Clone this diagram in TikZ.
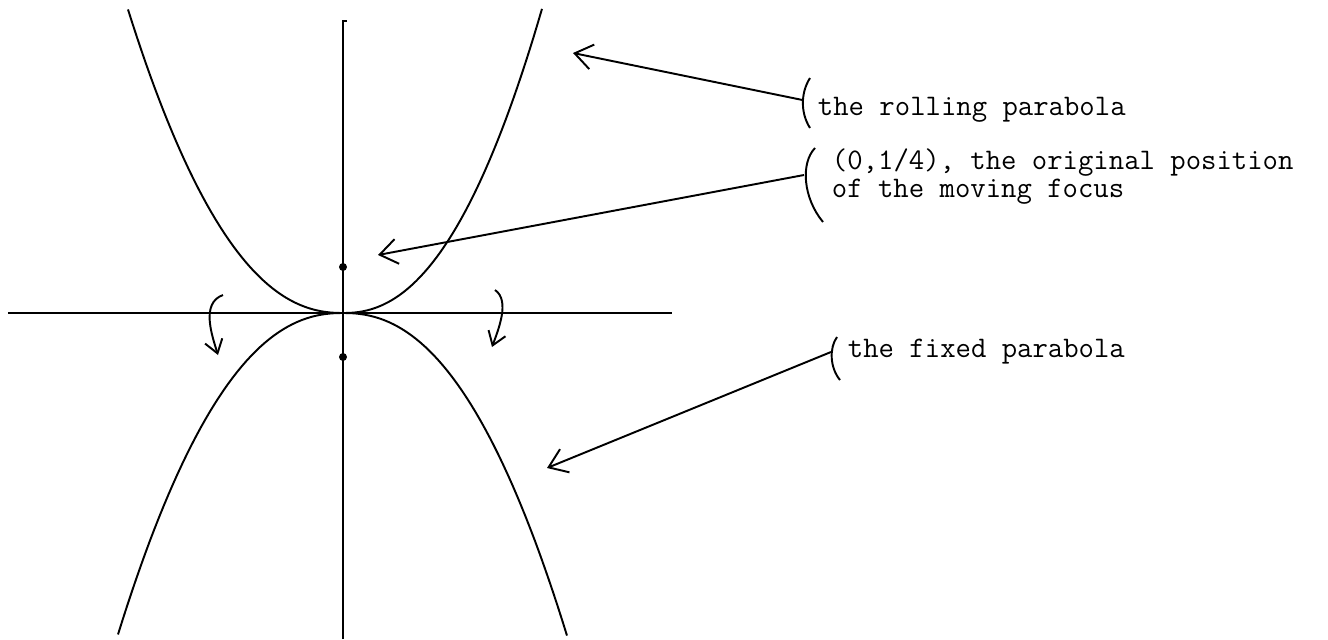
\documentclass[tikz,border=0pt]{standalone}
\usetikzlibrary{arrows.meta}
\begin{document}
\begin{tikzpicture}[line width=1.1pt,>={Straight Barb[length=3.5mm,width=5mm]},
    lab/.style={anchor=base west,inner sep=0pt,align=left,font=\fontsize{17}{14.2}\selectfont\ttfamily},
    dot/.style={circle,fill,inner sep=0pt,minimum size=1.6mm},
    turn/.style={->,>={Straight Barb[length=2.6mm,width=3.6mm]}}]
  \useasboundingbox (-6.86,-6.52) rectangle (19.70,6.26);
  % ejes
  \coordinate (xl) at (-6.70,0);
  \coordinate (xr) at (6.58,0);
  \coordinate (yt) at (0,5.84);
  \coordinate (yb) at (0,-6.52);
  \draw (xl) -- (xr);
  \draw (yb) -- (yt) -- ++(0.08,0);
  % parabola que rueda (arriba)
  \draw plot[domain=-4.3:0,samples=50] (\x,{0.228*(abs(\x)+0.0001)^2.25})
     -- plot[domain=0:3.98,samples=50] (\x,{0.272*(\x+0.0001)^2.25});
  % parabola fija (abajo)
  \draw plot[domain=-4.5:0,samples=50] (\x,{-0.218*(abs(\x)+0.0001)^2.25})
     -- plot[domain=0:4.48,samples=50] (\x,{-0.221*(\x+0.0001)^2.25});
  % focos
  \node[dot] (foco) at (0,0.92) {};
  \node[dot] (focob) at (0,-0.88) {};
  % giro
  \coordinate (gl1) at (-2.4,0.36);
  \coordinate (gl2) at (-2.5,-0.84);
  \coordinate (gr1) at (3.04,0.46);
  \coordinate (gr2) at (2.98,-0.68);
  \draw[turn] (gl1) .. controls (-2.85,0.2) and (-2.62,-0.45) .. (gl2);
  \draw[turn] (gr1) .. controls (3.35,0.25) and (3.1,-0.35) .. (gr2);
  % textos
  \node[lab] (rolltxt) at (9.48,3.96) {the rolling parabola};
  \node[lab] (focustxt) at (9.76,2.32) {(0,1/4), the original position\\of the moving focus};
  \node[lab] (fixtxt) at (10.08,-0.88) {the fixed parabola};
  % corchetes
  \draw (9.34,4.7) .. controls (9.15,4.4) and (9.15,4.0) .. (9.34,3.7);
  \draw (9.44,3.3) .. controls (9.15,3.0) and (9.2,2.3) .. (9.6,1.82);
  \draw (9.88,-0.48) .. controls (9.72,-0.7) and (9.74,-1.1) .. (9.94,-1.34);
  % flechas
  \coordinate (rollB) at (9.19,4.26);
  \coordinate (rollT) at (4.6,5.2);
  \coordinate (focB) at (9.22,2.76);
  \coordinate (focT) at (0.7,1.16);
  \coordinate (fixB) at (9.76,-0.78);
  \coordinate (fixT) at (4.08,-3.1);
  \draw[->] (rollB) -- (rollT);
  \draw[->] (focB) -- (focT);
  \draw[->] (fixB) -- (fixT);
\end{tikzpicture}
\end{document}
